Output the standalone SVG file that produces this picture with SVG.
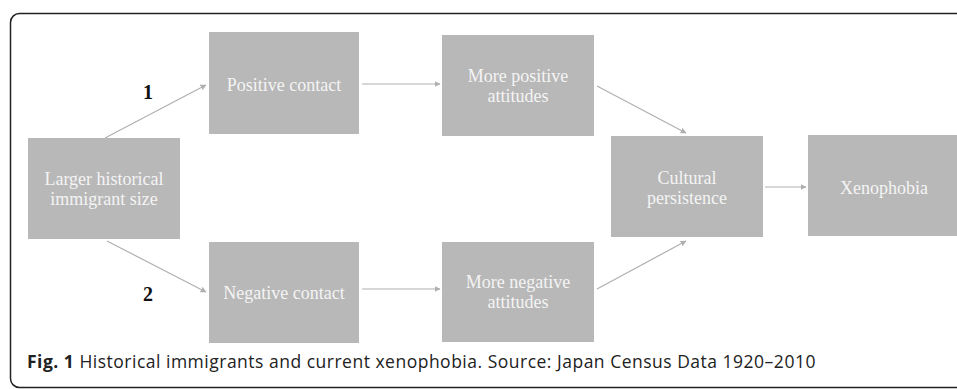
<svg xmlns="http://www.w3.org/2000/svg" width="957" height="389" viewBox="0 0 957 389">
<defs>
<style>
.box{fill:#b8b8b8;}
.lbl{font-family:"Liberation Serif","Times New Roman",serif;font-size:18px;fill:#f4f4f4;text-anchor:middle;}
.num{font-family:"Liberation Serif","Times New Roman",serif;font-size:20px;font-weight:bold;fill:#111;text-anchor:middle;}
.conn{stroke:#b0b0b0;stroke-width:1.2;fill:none;marker-end:url(#ah);}
.cap{font-family:"Open Sans","Noto Sans",sans-serif;font-size:17.5px;letter-spacing:0.5px;fill:#222;}
</style>
<marker id="ah" viewBox="0 0 10 10" refX="9" refY="5" markerWidth="6" markerHeight="6" markerUnits="userSpaceOnUse" orient="auto">
<path d="M0,0 L10,5 L0,10 z" fill="#b0b0b0"/>
</marker>
</defs>
<rect width="957" height="389" fill="#ffffff"/>
<rect x="10.5" y="13.5" width="965" height="374" rx="9" ry="9" fill="none" stroke="#222" stroke-width="1.5"/>
<g id="connectors">
<line class="conn" x1="105" y1="138" x2="206" y2="85"/>
<line class="conn" x1="107" y1="241" x2="206" y2="292"/>
<line class="conn" x1="362" y1="84" x2="440" y2="84"/>
<line class="conn" x1="362" y1="289" x2="440" y2="289"/>
<line class="conn" x1="597" y1="86" x2="686" y2="133"/>
<line class="conn" x1="597" y1="289" x2="686" y2="241"/>
<line class="conn" x1="765" y1="187" x2="806" y2="187"/>
</g>
<g id="n_larger">
<rect class="box" x="28" y="138" width="152" height="101"/>
<text class="lbl" x="104" y="185">Larger historical</text>
<text class="lbl" x="104" y="205">immigrant size</text>
</g>
<g id="n_poscontact">
<rect class="box" x="209" y="32" width="150" height="102"/>
<text class="lbl" x="284" y="91">Positive contact</text>
</g>
<g id="n_negcontact">
<rect class="box" x="209" y="242" width="150" height="101"/>
<text class="lbl" x="284" y="299">Negative contact</text>
</g>
<g id="n_posatt">
<rect class="box" x="442" y="35" width="152" height="101"/>
<text class="lbl" x="518" y="82">More positive</text>
<text class="lbl" x="518" y="102">attitudes</text>
</g>
<g id="n_negatt">
<rect class="box" x="442" y="242" width="152" height="100"/>
<text class="lbl" x="518" y="288">More negative</text>
<text class="lbl" x="518" y="308">attitudes</text>
</g>
<g id="n_cultural">
<rect class="box" x="611" y="136" width="152" height="101"/>
<text class="lbl" x="687" y="184">Cultural</text>
<text class="lbl" x="687" y="204">persistence</text>
</g>
<g id="n_xeno">
<rect class="box" x="808" y="135" width="152" height="101"/>
<text class="lbl" x="884" y="194">Xenophobia</text>
</g>
<text class="num" x="148" y="99">1</text>
<text class="num" x="148" y="301">2</text>
<text class="cap" x="27" y="368"><tspan font-weight="bold">Fig. 1</tspan> Historical immigrants and current xenophobia. Source: Japan Census Data 1920–2010</text>
</svg>
